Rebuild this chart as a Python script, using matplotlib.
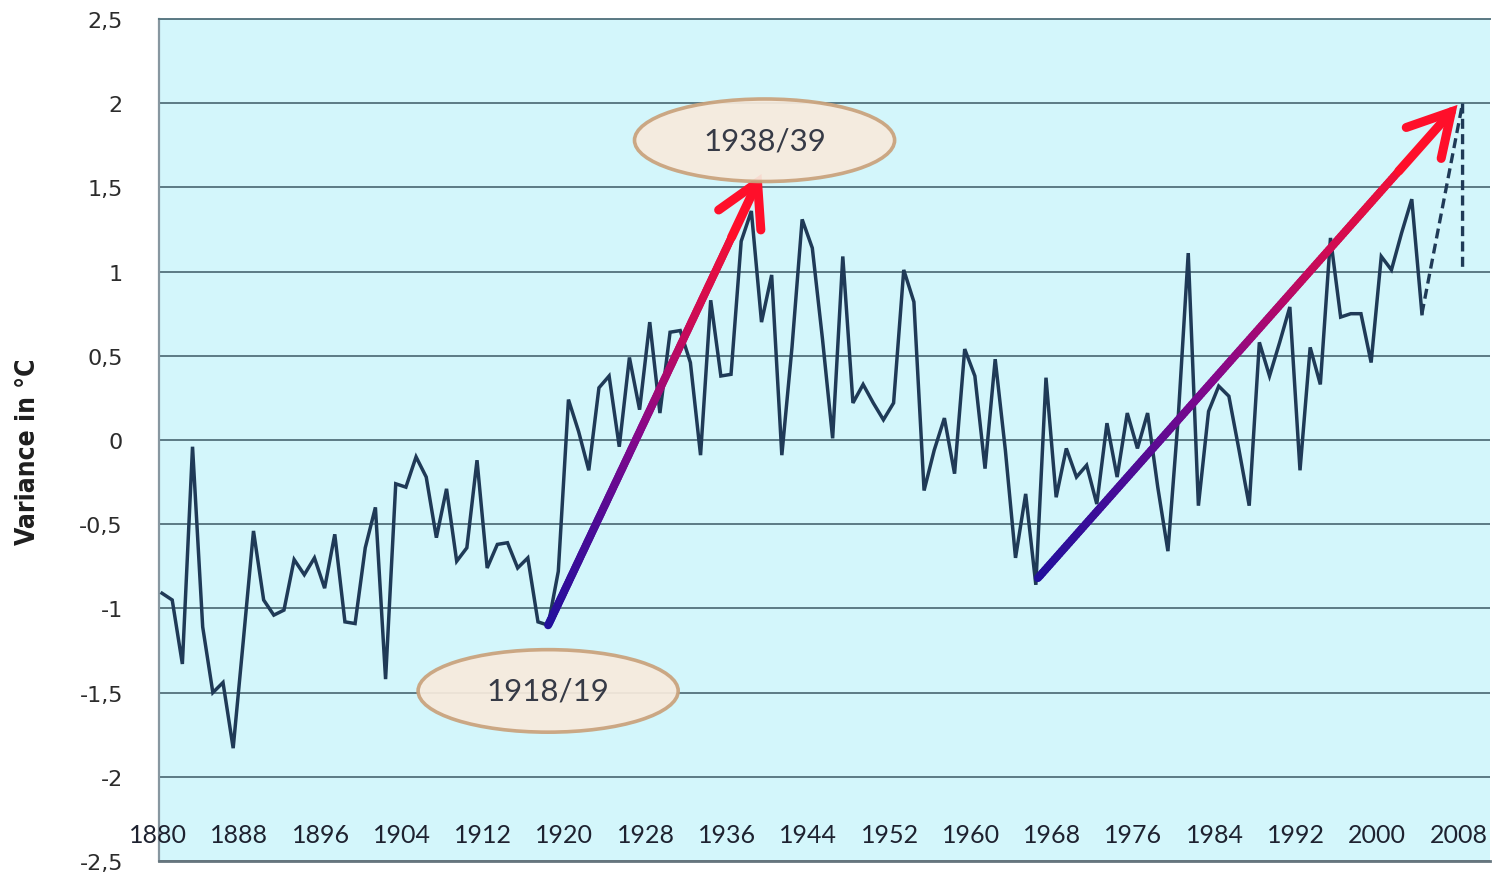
import matplotlib
matplotlib.use('Agg')
import matplotlib.pyplot as plt
import numpy as np
from matplotlib.collections import LineCollection
from matplotlib.patches import Ellipse
from matplotlib.colors import LinearSegmentedColormap

# ---------------- data ----------------
years = list(range(1880, 2005))
values = [
    -0.91, -0.95, -1.33, -0.04, -1.11, -1.50, -1.44, -1.83, -1.19, -0.54,   # 1880-1889
    -0.95, -1.04, -1.01, -0.71, -0.80, -0.70, -0.88, -0.56, -1.08, -1.09,   # 1890-1899
    -0.64, -0.40, -1.42, -0.26, -0.28, -0.10, -0.22, -0.58, -0.29, -0.72,   # 1900-1909
    -0.64, -0.12, -0.76, -0.62, -0.61, -0.76, -0.70, -1.08, -1.10, -0.78,   # 1910-1919
    0.24, 0.05, -0.18, 0.31, 0.38, -0.04, 0.49, 0.18, 0.70, 0.16,           # 1920-1929
    0.64, 0.65, 0.46, -0.09, 0.83, 0.38, 0.39, 1.18, 1.36, 0.70,            # 1930-1939
    0.98, -0.09, 0.55, 1.31, 1.14, 0.60, 0.01, 1.09, 0.22, 0.33,            # 1940-1949
    0.22, 0.12, 0.22, 1.01, 0.82, -0.30, -0.06, 0.13, -0.20, 0.54,          # 1950-1959
    0.38, -0.17, 0.48, -0.06, -0.70, -0.32, -0.86, 0.37, -0.34, -0.05,      # 1960-1969
    -0.22, -0.15, -0.38, 0.10, -0.22, 0.16, -0.05, 0.16, -0.28, -0.66,      # 1970-1979
    0.12, 1.11, -0.39, 0.17, 0.32, 0.26, -0.06, -0.39, 0.58, 0.38,          # 1980-1989
    0.58, 0.79, -0.18, 0.55, 0.33, 1.20, 0.73, 0.75, 0.75, 0.46,            # 1990-1999
    1.09, 1.01, 1.23, 1.43, 0.75,                                           # 2000-2004
]
dashed_years = [2004, 2008, 2008]
dashed_values = [0.75, 2.0, 1.0]

y_ticks = [-2.5, -2, -1.5, -1, -0.5, 0, 0.5, 1, 1.5, 2, 2.5]
y_tick_labels = ['-2,5', '-2', '-1,5', '-1', '-0,5', '0', '0,5', '1', '1,5', '2', '2,5']
x_tick_years = list(range(1880, 2009, 8))
x_tick_labels = [str(y) for y in x_tick_years]

trend1_x = [1918.0, 1939.0]
trend1_y = [-1.10, 1.58]
trend2_x = [1966.2, 2007.5]
trend2_y = [-0.82, 1.99]

callout_texts = ['1938/39', '1918/19']
callout_x = [1939.3, 1918.0]
callout_y = [1.78, -1.49]

y_label = 'Variance in °C'

# ---------------- figure ----------------
W, H = 1504, 879
fig = plt.figure(figsize=(W / 100, H / 100), dpi=100)
fig.patch.set_facecolor('white')
ax = fig.add_axes([159 / W, 1 - 862 / H, (1490 - 159) / W, (862 - 20) / H])
ax.set_facecolor('#d3f6fb')

ax.set_xlim(1879.7, 2010.7)
ax.set_ylim(-2.5, 2.5)

grid_color = '#5b7a84'
ax.set_yticks(y_ticks, y_tick_labels)
ax.yaxis.grid(True, color=grid_color, lw=1.4)
ax.set_axisbelow(True)
ax.tick_params(axis='y', length=0, pad=26, labelsize=16, labelcolor='#2c2c2c')
for lab in ax.get_yticklabels():
    lab.set_family('DejaVu Sans')
ax.set_xticks([])

ax.spines['right'].set_visible(False)
ax.spines['top'].set_color(grid_color)
ax.spines['top'].set_linewidth(1.4)
ax.spines['left'].set_color('#8797a0')
ax.spines['left'].set_linewidth(1.6)
ax.spines['bottom'].set_color('#66767e')
ax.spines['bottom'].set_linewidth(2.0)

# x labels drawn inside the plot area
for yr, lab in zip(x_tick_years, x_tick_labels):
    ax.text(yr - 0.4, -2.34, lab, ha='center', va='center', fontsize=18,
            family=['Lato', 'DejaVu Sans'], color='#1e2230', zorder=3)

# main series
line_color = '#1f3a57'
ax.plot(years, values, color=line_color, lw=2.5, zorder=4, solid_joinstyle='miter')
ax.plot(dashed_years, dashed_values, color=line_color, lw=2.4, ls=(0, (3, 1.6)), zorder=4)

# gradient arrows
cmap = LinearSegmentedColormap.from_list(
    'trend', ['#22109c', '#4a0c96', '#86088a', '#c40a5c', '#f01038'])


def gradient_arrow(xs, ys):
    x0, x1 = xs
    y0, y1 = ys
    frac = 0.86
    n = 150
    t = np.linspace(0, frac, n + 1)
    px = x0 + (x1 - x0) * t
    py = y0 + (y1 - y0) * t
    segs = np.stack([np.column_stack([px[:-1], py[:-1]]),
                     np.column_stack([px[1:], py[1:]])], axis=1)
    lc = LineCollection(segs, colors=cmap(t[:-1] / frac), linewidths=5.8,
                        capstyle='round', zorder=5)
    ax.add_collection(lc)
    ax.annotate('', xy=(x1, y1), xytext=(px[-1], py[-1]),
                arrowprops=dict(arrowstyle='->,head_length=0.75,head_width=0.42',
                                color='#ff0f2a', lw=6.5, shrinkA=0, shrinkB=0,
                                mutation_scale=40, joinstyle='miter'),
                zorder=5)


gradient_arrow(trend1_x, trend1_y)
gradient_arrow(trend2_x, trend2_y)

# callout ellipses
for txt, cx, cy in zip(callout_texts, callout_x, callout_y):
    e = Ellipse((cx, cy), 25.6, 0.49, facecolor='#f7ebdd', edgecolor='#c9a27c',
                lw=2.6, alpha=0.93, zorder=6)
    ax.add_patch(e)
    ax.text(cx, cy, txt, ha='center', va='center', fontsize=22.5,
            family=['Lato', 'DejaVu Sans'], color='#363a46', zorder=7)

# y label
fig.text(28 / W, 1 - 452 / H, y_label, rotation=90, ha='center', va='center',
         fontsize=19, fontweight='bold', fontstretch='condensed', color='#1e1e1e',
         family=['DejaVu Sans'])

fig.savefig('out.png', dpi=100, facecolor='white')
